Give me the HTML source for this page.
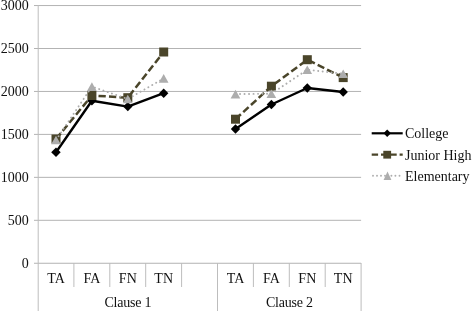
<!DOCTYPE html>
<html><head><meta charset="utf-8"><title>Chart</title>
<style>
html,body{margin:0;padding:0;background:#fff;}
svg{display:block}
text{font-family:"Liberation Serif",serif;font-size:14px;fill:#111;}
</style></head><body>
<svg width="472" height="313" viewBox="0 0 472 313">
<rect width="472" height="313" fill="#fff"/>
<line x1="34" x2="361.1" y1="5.55" y2="5.55" stroke="#b3b3b3" stroke-width="1"/>
<text x="28.8" y="9.8" text-anchor="end">3000</text>
<line x1="34" x2="361.1" y1="48.5" y2="48.5" stroke="#b3b3b3" stroke-width="1"/>
<text x="28.8" y="52.8" text-anchor="end">2500</text>
<line x1="34" x2="361.1" y1="91.45" y2="91.45" stroke="#b3b3b3" stroke-width="1"/>
<text x="28.8" y="95.8" text-anchor="end">2000</text>
<line x1="34" x2="361.1" y1="134.40000000000003" y2="134.40000000000003" stroke="#b3b3b3" stroke-width="1"/>
<text x="28.8" y="138.7" text-anchor="end">1500</text>
<line x1="34" x2="361.1" y1="177.35000000000002" y2="177.35000000000002" stroke="#b3b3b3" stroke-width="1"/>
<text x="28.8" y="181.7" text-anchor="end">1000</text>
<line x1="34" x2="361.1" y1="220.3" y2="220.3" stroke="#b3b3b3" stroke-width="1"/>
<text x="28.8" y="224.6" text-anchor="end">500</text>
<line x1="34" x2="361.1" y1="263.25000000000006" y2="263.25000000000006" stroke="#b3b3b3" stroke-width="1"/>
<text x="28.8" y="267.6" text-anchor="end">0</text>
<line x1="38.2" x2="38.2" y1="5" y2="311" stroke="#bdbdbd" stroke-width="1"/>
<line x1="73.9" x2="73.9" y1="263" y2="287" stroke="#bdbdbd" stroke-width="1"/>
<line x1="109.8" x2="109.8" y1="263" y2="287" stroke="#bdbdbd" stroke-width="1"/>
<line x1="145.7" x2="145.7" y1="263" y2="287" stroke="#bdbdbd" stroke-width="1"/>
<line x1="181.6" x2="181.6" y1="263" y2="287" stroke="#bdbdbd" stroke-width="1"/>
<line x1="217.5" x2="217.5" y1="263" y2="311" stroke="#bdbdbd" stroke-width="1"/>
<line x1="253.4" x2="253.4" y1="263" y2="287" stroke="#bdbdbd" stroke-width="1"/>
<line x1="289.3" x2="289.3" y1="263" y2="287" stroke="#bdbdbd" stroke-width="1"/>
<line x1="325.2" x2="325.2" y1="263" y2="287" stroke="#bdbdbd" stroke-width="1"/>
<line x1="361.1" x2="361.1" y1="263" y2="311" stroke="#bdbdbd" stroke-width="1"/>
<text x="56.0" y="283" text-anchor="middle">TA</text>
<text x="91.9" y="283" text-anchor="middle">FA</text>
<text x="127.8" y="283" text-anchor="middle">FN</text>
<text x="163.7" y="283" text-anchor="middle">TN</text>
<text x="235.5" y="283" text-anchor="middle">TA</text>
<text x="271.4" y="283" text-anchor="middle">FA</text>
<text x="307.3" y="283" text-anchor="middle">FN</text>
<text x="343.2" y="283" text-anchor="middle">TN</text>
<text x="127.8" y="307" text-anchor="middle" letter-spacing="-0.22">Clause 1</text>
<text x="289.3" y="307" text-anchor="middle" letter-spacing="-0.22">Clause 2</text>
<polyline points="56.0,152.3 91.9,100.7 127.8,106.6 163.7,93.2" fill="none" stroke="#000" stroke-width="2.4" stroke-linejoin="round"/><polyline points="235.5,129.0 271.4,104.5 307.3,88.0 343.2,92.0" fill="none" stroke="#000" stroke-width="2.4" stroke-linejoin="round"/>
<polygon points="51.2,152.3 56.0,147.6 60.7,152.3 56.0,157.0" fill="#000"/>
<polygon points="87.2,100.7 91.9,96.0 96.6,100.7 91.9,105.4" fill="#000"/>
<polygon points="123.1,106.6 127.8,101.9 132.5,106.6 127.8,111.3" fill="#000"/>
<polygon points="159.0,93.2 163.7,88.5 168.4,93.2 163.7,97.9" fill="#000"/>
<polygon points="230.8,129.0 235.5,124.3 240.2,129.0 235.5,133.7" fill="#000"/>
<polygon points="266.7,104.5 271.4,99.8 276.1,104.5 271.4,109.2" fill="#000"/>
<polygon points="302.6,88.0 307.3,83.3 312.0,88.0 307.3,92.7" fill="#000"/>
<polygon points="338.5,92.0 343.2,87.3 347.9,92.0 343.2,96.7" fill="#000"/>
<polyline points="56.0,139.0 91.9,95.5 127.8,97.7 163.7,52.0" fill="none" stroke="#4a452a" stroke-width="2.5" stroke-dasharray="7.3 3.2"/><polyline points="235.5,119.2 271.4,86.2 307.3,59.7 343.2,77.6" fill="none" stroke="#4a452a" stroke-width="2.5" stroke-dasharray="7.3 3.2"/>
<rect x="51.5" y="134.5" width="9.0" height="9.0" fill="#4a452a"/>
<rect x="87.4" y="91.0" width="9.0" height="9.0" fill="#4a452a"/>
<rect x="123.3" y="93.2" width="9.0" height="9.0" fill="#4a452a"/>
<rect x="159.2" y="47.5" width="9.0" height="9.0" fill="#4a452a"/>
<rect x="231.0" y="114.7" width="9.0" height="9.0" fill="#4a452a"/>
<rect x="266.9" y="81.7" width="9.0" height="9.0" fill="#4a452a"/>
<rect x="302.8" y="55.2" width="9.0" height="9.0" fill="#4a452a"/>
<rect x="338.7" y="73.1" width="9.0" height="9.0" fill="#4a452a"/>
<polyline points="56.0,140.0 91.9,86.6 127.8,99.0 163.7,78.4" fill="none" stroke="#adadad" stroke-width="1.9" stroke-linecap="round" stroke-dasharray="0.1 4.4"/><polyline points="235.5,94.1 271.4,93.7 307.3,69.7 343.2,73.8" fill="none" stroke="#adadad" stroke-width="1.9" stroke-linecap="round" stroke-dasharray="0.1 4.4"/>
<polygon points="51.1,144.3 56.0,135.7 60.8,144.3" fill="#adadad"/>
<polygon points="87.0,90.9 91.9,82.3 96.7,90.9" fill="#adadad"/>
<polygon points="122.9,103.3 127.8,94.7 132.6,103.3" fill="#adadad"/>
<polygon points="158.8,82.7 163.7,74.1 168.5,82.7" fill="#adadad"/>
<polygon points="230.6,98.4 235.5,89.8 240.3,98.4" fill="#adadad"/>
<polygon points="266.5,98.0 271.4,89.4 276.2,98.0" fill="#adadad"/>
<polygon points="302.4,74.0 307.3,65.4 312.1,74.0" fill="#adadad"/>
<polygon points="338.3,78.1 343.2,69.5 348.0,78.1" fill="#adadad"/>
<line x1="371.7" x2="402.7" y1="133.3" y2="133.3" stroke="#000" stroke-width="2.2"/>
<polygon points="383.5,133.3 387.2,129.6 390.9,133.3 387.2,137.0" fill="#000"/>
<text x="405" y="138.2">College</text>
<line x1="371.7" x2="402.7" y1="154.7" y2="154.7" stroke="#4a452a" stroke-width="2.3" stroke-dasharray="6.4 2.9"/>
<rect x="383.3" y="150.8" width="7.8" height="7.8" fill="#4a452a"/>
<text x="405" y="159.6">Junior High</text>
<circle cx="373" cy="175.8" r="0.95" fill="#adadad"/>
<circle cx="377" cy="175.8" r="0.95" fill="#adadad"/>
<circle cx="381" cy="175.8" r="0.95" fill="#adadad"/>
<circle cx="385" cy="175.8" r="0.95" fill="#adadad"/>
<circle cx="391.4" cy="175.8" r="0.95" fill="#adadad"/>
<circle cx="395.4" cy="175.8" r="0.95" fill="#adadad"/>
<circle cx="399.5" cy="175.8" r="0.95" fill="#adadad"/>
<polygon points="383.6,179.9 387.5,171.4 391.4,179.9" fill="#adadad"/>
<text x="405" y="180.6">Elementary</text>
</svg></body></html>
